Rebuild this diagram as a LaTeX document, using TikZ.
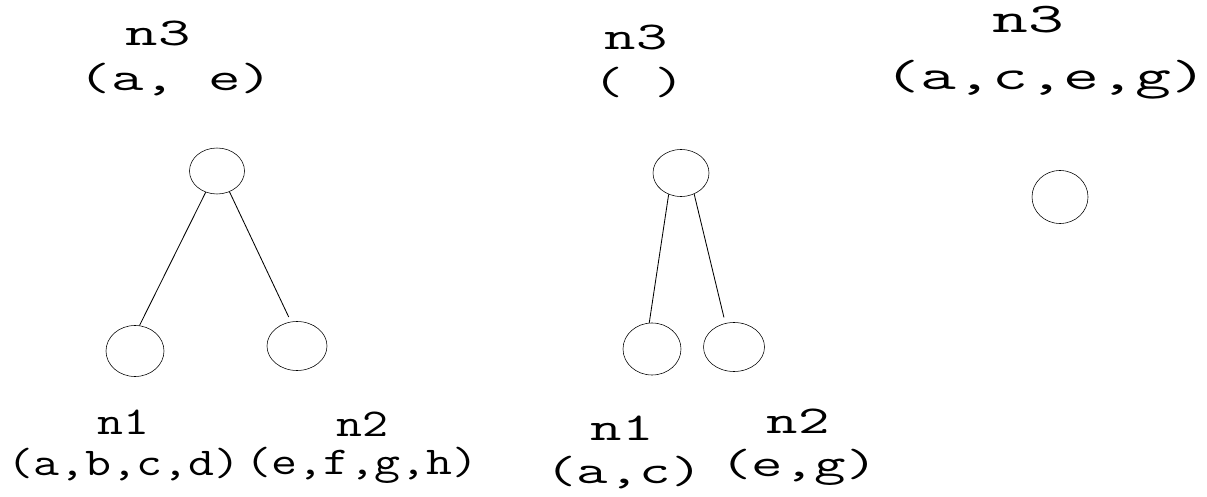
\documentclass[tikz,border=0pt]{standalone}
\usepackage{graphicx}
\usepackage{tikz}
\usetikzlibrary{shapes.geometric}
\newcommand{\wtxt}[2]{\scalebox{#1}[1]{#2}}

\begin{document}
\begin{tikzpicture}[
  x=0.025cm, y=-0.025cm,
  ell/.style 2 args={ellipse,draw,inner sep=0pt,minimum width=#1,minimum height=#2},
  lab/.style={inner sep=0pt,font=\ttfamily\fontsize{28}{28}\selectfont},
  labbig/.style={inner sep=0pt,font=\ttfamily\fontsize{30}{30}\selectfont},
  edge/.style={line width=0.6pt}
]
  \useasboundingbox (0,0) rectangle (1207,497);

  % first tree
  \node[ell={1.375cm}{1.15cm}] (a3) at (217,171) {};
  \node[ell={1.45cm}{1.275cm}] (a1) at (135,351) {};
  \node[ell={1.5cm}{1.225cm}]  (a2) at (297,346) {};
  \node[lab] (a3name) at (158,33)  {\wtxt{1.6}{n3}};
  \node[lab] (a3set)  at (176,80)  {\wtxt{1.6}{(a, e)}};
  \node[lab] (a1name) at (123,422) {\wtxt{1.28}{n1}};
  \node[lab] (a1set)  at (124,465) {\wtxt{1.28}{(a,b,c,d)}};
  \node[lab] (a2name) at (362,424) {\wtxt{1.28}{n2}};
  \node[lab] (a2set)  at (362,465) {\wtxt{1.28}{(e,f,g,h)}};
  \draw[edge] (a3.242) -- (a1.80);
  \draw[edge,shorten >=0.13cm] (a3.301) -- (a2.104);

  % second tree
  \node[ell={1.4cm}{1.175cm}]  (b3) at (681,173) {};
  \node[ell={1.45cm}{1.3cm}]   (b1) at (652,349) {};
  \node[ell={1.525cm}{1.225cm}] (b2) at (734,347) {};
  \node[lab] (b3name) at (636,37)  {\wtxt{1.55}{n3}};
  \node[lab] (b3set)  at (639,82)  {\wtxt{1.5}{( )}};
  \node[lab] (b1name) at (622,428) {\wtxt{1.55}{n1}};
  \node[lab] (b1set)  at (624,473) {\wtxt{1.55}{(a,c)}};
  \node[lab] (b2name) at (798,421) {\wtxt{1.55}{n2}};
  \node[lab] (b2set)  at (799,467) {\wtxt{1.55}{(e,g)}};
  \draw[edge] (b3.240) -- (b1.96);
  \draw[edge,shorten >=0.15cm] (b3.302) -- (b2.110);

  % merged node
  \node[ell={1.4cm}{1.325cm}] (c3) at (1060,197) {};
  \node[labbig] (c3name) at (1028,20) {\wtxt{1.65}{n3}};
  \node[labbig] (c3set)  at (1046,80) {\wtxt{1.65}{(a,c,e,g)}};
\end{tikzpicture}
\end{document}
